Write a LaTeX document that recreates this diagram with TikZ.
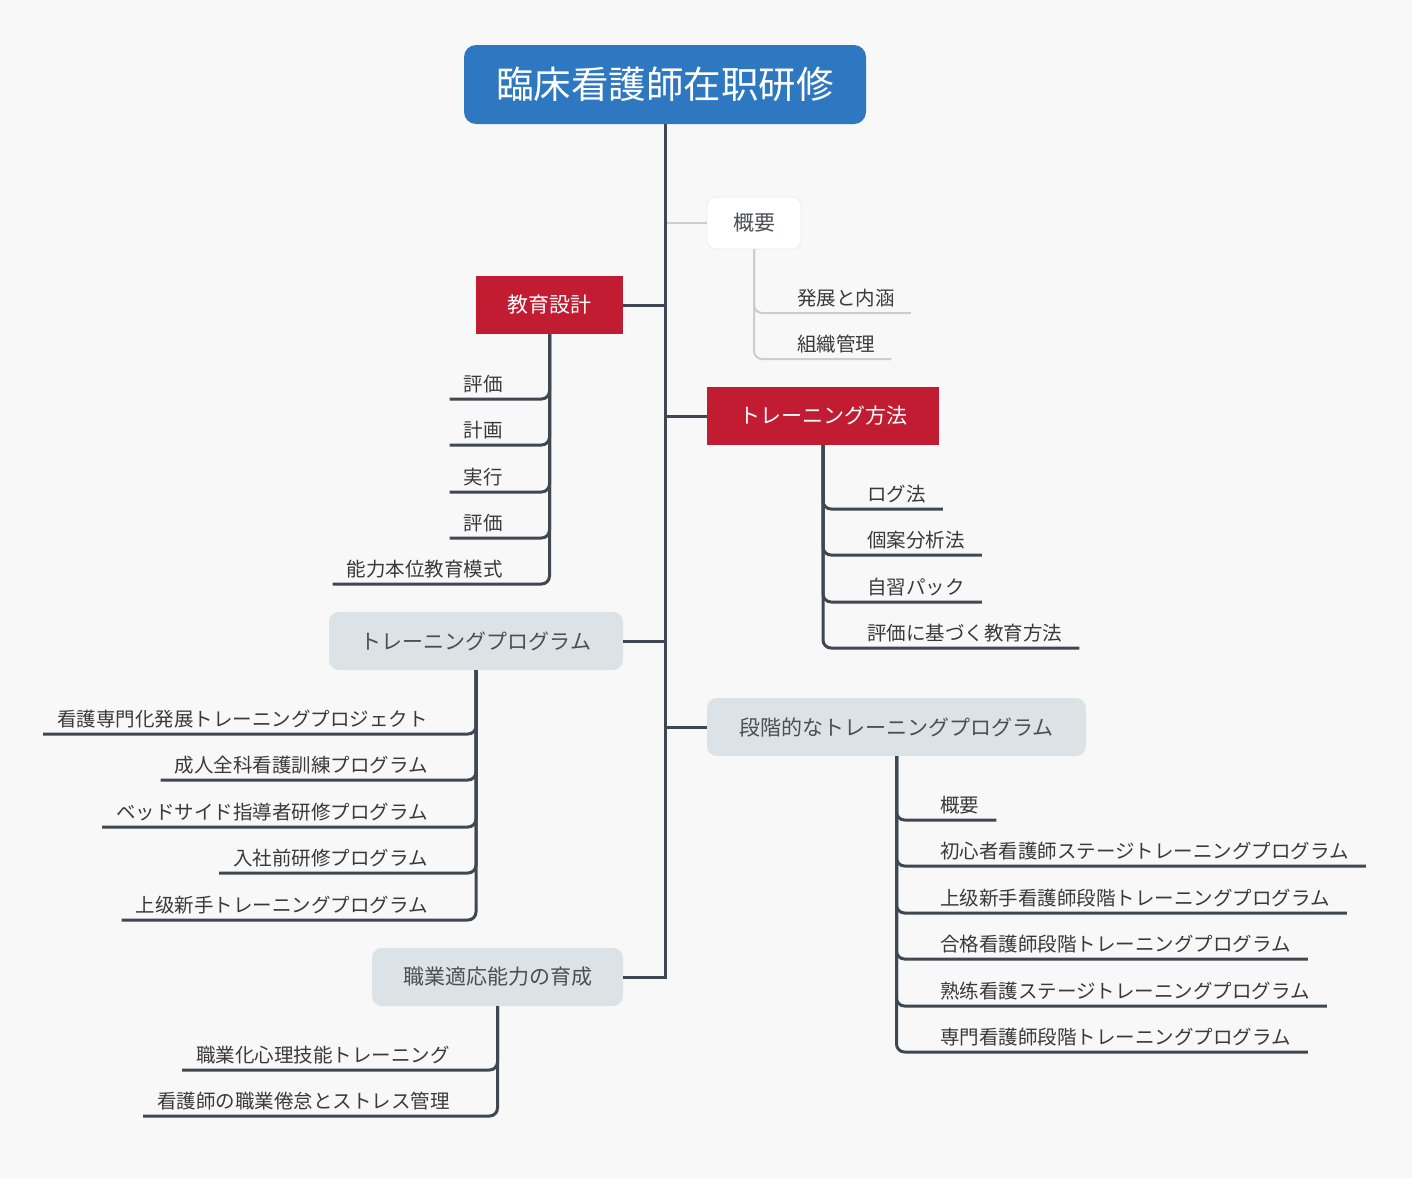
\documentclass[tikz,border=0pt]{standalone}
\usepackage{fontspec}
\setmainfont{Noto Sans CJK JP}
\usetikzlibrary{calc}

\definecolor{bgc}{HTML}{F8F8F8}
\definecolor{bluec}{HTML}{2E78C2}
\definecolor{redc}{HTML}{C11C31}
\definecolor{greyc}{HTML}{DCE3E6}
\definecolor{greytext}{HTML}{4A4F55}
\definecolor{linec}{HTML}{3F4751}
\definecolor{lightc}{HTML}{CDCDCD}
\definecolor{leaftext}{HTML}{3A3A3A}
\definecolor{edgec}{HTML}{EAEAEA}

\begin{document}
\begin{tikzpicture}[x=1pt,y=-1pt,
  font=\fontsize{19.5}{22}\selectfont,
  box/.style={minimum height=58pt, inner sep=0pt, align=center,
      font=\fontsize{21}{24}\selectfont},
  redbox/.style={box, fill=redc, text=white},
  greybox/.style={box, fill=greyc, text=greytext, rounded corners=10pt},
  trunk/.style={draw=linec, line width=3pt},
  branch/.style={draw=linec, line width=3pt, rounded corners=8pt},
  faint/.style={draw=lightc, line width=2pt, rounded corners=8pt},
  leafr/.style={anchor=base west, inner sep=0pt, text=leaftext},
  leafl/.style={anchor=base east, inner sep=0pt, text=leaftext},
]
% canvas
\fill[bgc] (0,0) rectangle (1412,1178);
\useasboundingbox (0,0) rectangle (1412,1178);

% root and first-level topics
\node[fill=bluec, text=white, rounded corners=12pt, minimum width=402pt,
      minimum height=79pt, inner sep=0pt,
      font=\fontsize{37.5}{40}\selectfont] (root) at (665,84.5) {\raisebox{-2pt}{臨床看護師在职研修}};
\node[box, fill=white, draw=edgec, line width=0.6pt, text=greytext, rounded corners=9pt,
      minimum width=94pt, minimum height=52pt] (gaiyo) at (754,223) {概要};
\node[redbox, minimum width=147pt] (ed) at (549.5,305) {教育設計};
\node[redbox, minimum width=232pt] (tm) at (823,416) {トレーニング方法};
\node[greybox, minimum width=294pt] (tp) at (476,641) {トレーニングプログラム};
\node[greybox, minimum width=379pt] (st) at (896.5,727) {段階的なトレーニングプログラム};
\node[greybox, minimum width=251pt] (sy) at (497.5,977) {職業適応能力の育成};

% trunk and its connectors
\draw[faint, rounded corners=0pt] (root.south |- gaiyo.west) -- (gaiyo.west);
\draw[trunk] (root.south) |- (sy.east);
\draw[trunk] (root.south |- ed.east) -- (ed.east);
\draw[trunk] (root.south |- tm.west) -- (tm.west);
\draw[trunk] (root.south |- tp.east) -- (tp.east);
\draw[trunk] (root.south |- st.west) -- (st.west);

% overview
\node[leafr] (g1) at (797,305.5) {発展と内涵};
\node[leafr] (g2) at (797,351.5) {組織管理};
\foreach \n in {g1,g2}
  \draw[faint] (gaiyo.south) |- ($(\n.base east)+(16,7.5)$);

% education design
\node[leafl] (e1) at (503,391.5) {評価};
\node[leafl] (e2) at (503,437.5) {計画};
\node[leafl] (e3) at (503,484.5) {実行};
\node[leafl] (e4) at (503,530.5) {評価};
\node[leafl] (e5) at (503,576.5) {能力本位教育模式};
\foreach \n in {e1,e2,e3,e4,e5}
  \draw[branch] (ed.south) |- ($(\n.base west)+(-14,7.5)$);

% training methods
\node[leafr] (m1) at (867,501.5) {ログ法};
\node[leafr] (m2) at (867,547.5) {個案分析法};
\node[leafr] (m3) at (867,594.5) {自習パック};
\node[leafr] (m4) at (867,640.5) {評価に基づく教育方法};
\foreach \n in {m1,m2,m3,m4}
  \draw[branch] (tm.south) |- ($(\n.base east)+(17,7.5)$);

% training programmes
\node[leafl] (p1) at (428,726.5) {看護専門化発展トレーニングプロジェクト};
\node[leafl] (p2) at (428,772.5) {成人全科看護訓練プログラム};
\node[leafl] (p3) at (428,819.5) {ベッドサイド指導者研修プログラム};
\node[leafl] (p4) at (428,865.5) {入社前研修プログラム};
\node[leafl] (p5) at (428,912.5) {上级新手トレーニングプログラム};
\foreach \n in {p1,p2,p3,p4,p5}
  \draw[branch] (tp.south) |- ($(\n.base west)+(-14,7.5)$);

% staged programmes
\node[leafr] (s1) at (940,812.5) {概要};
\node[leafr] (s2) at (940,858.5) {初心者看護師ステージトレーニングプログラム};
\node[leafr] (s3) at (940,905.5) {上级新手看護師段階トレーニングプログラム};
\node[leafr] (s4) at (940,951.5) {合格看護師段階トレーニングプログラム};
\node[leafr] (s5) at (940,998.5) {熟练看護ステージトレーニングプログラム};
\node[leafr] (s6) at (940,1044.5) {専門看護師段階トレーニングプログラム};
\foreach \n in {s1,s2,s3,s4,s5,s6}
  \draw[branch] (st.south) |- ($(\n.base east)+(17,7.5)$);

% professional adaptation
\node[leafl] (y1) at (450,1062.5) {職業化心理技能トレーニング};
\node[leafl] (y2) at (450,1108.5) {看護師の職業倦怠とストレス管理};
\foreach \n in {y1,y2}
  \draw[branch] (sy.south) |- ($(\n.base west)+(-14,7.5)$);
\end{tikzpicture}
\end{document}
